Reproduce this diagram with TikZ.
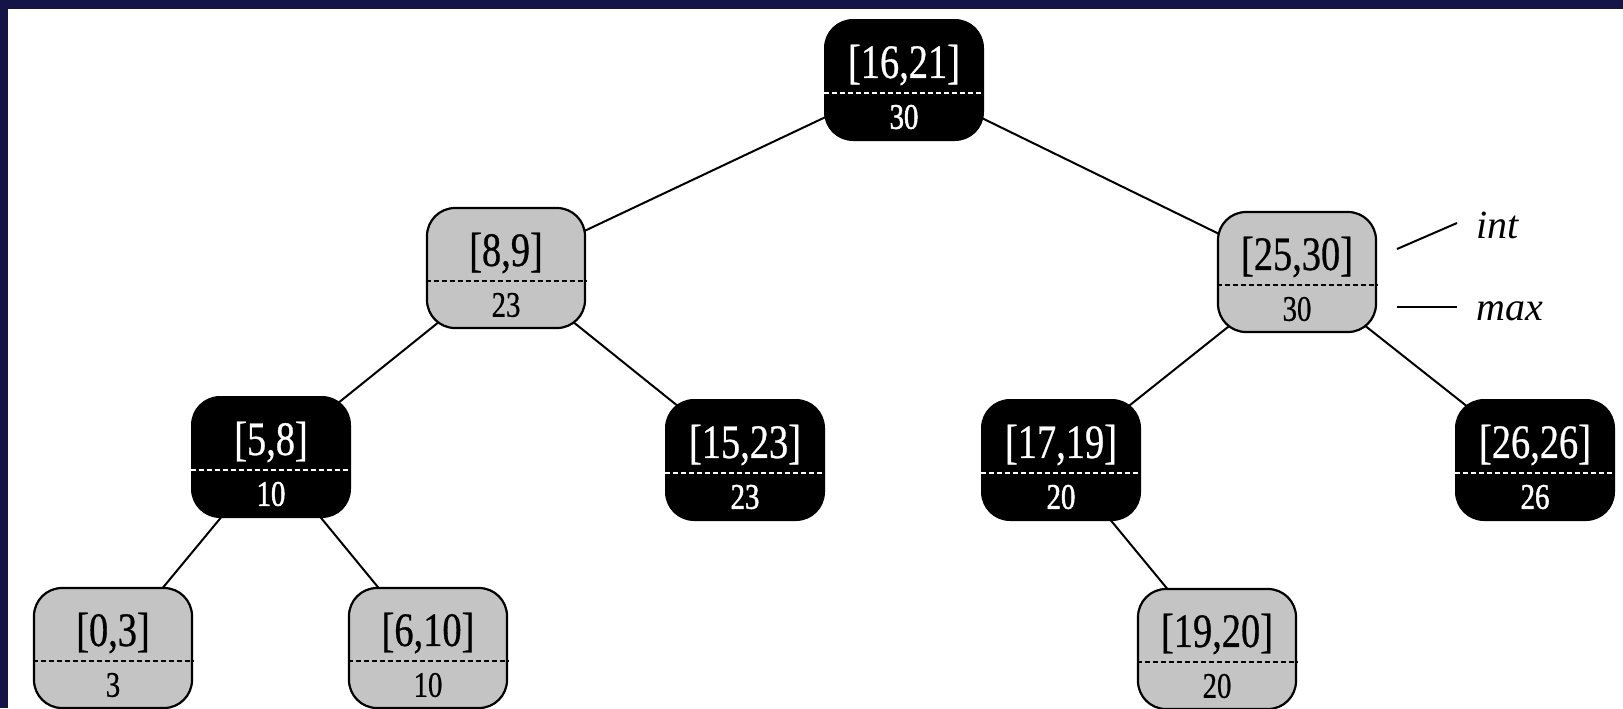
\documentclass[tikz,border=0pt]{standalone}
\usepackage{fontspec}
\setmainfont{Liberation Serif}
\newfontfamily\narrowserif[FakeStretch=0.8,FakeBold=0.6]{Liberation Serif}
\newfontfamily\narrowserifbf[FakeStretch=0.8,FakeBold=1.4]{Liberation Serif}
\usetikzlibrary{backgrounds}
\definecolor{navy}{RGB}{20,21,70}
\definecolor{stip}{RGB}{196,196,196}
\newcommand\topf{\narrowserif\fontsize{24}{28}\selectfont}
\newcommand\botf{\narrowserif\fontsize{18}{22}\selectfont}
\newcommand\botfb{\narrowserifbf\fontsize{18}{22}\selectfont}
\tikzset{
  anybox/.style={rectangle,rounded corners=14pt,minimum width=79pt,minimum height=60pt,inner sep=0pt},
  blkbox/.style={anybox,fill=black,draw=black,line width=1pt},
  grybox/.style={anybox,fill=stip,draw=black,line width=1.1pt},
  blkdash/.style={draw=white,line width=1pt,dash pattern=on 2.5pt off 1.5pt},
  grydash/.style={draw=black,line width=1pt,dash pattern=on 2.5pt off 1.5pt},
  blktxt/.style={text=white,inner sep=0pt},
  grytxt/.style={text=black,inner sep=0pt},
  edge/.style={draw=black,line width=1pt},
  tag/.style={font=\itshape\fontsize{20}{24}\selectfont,inner sep=0pt,anchor=base west},
}
% #1 name, #2 position, #3 blk/gry, #4 interval, #5 max, #6 font of max
\newcommand\ivn[6]{%
  \node[#3box] (#1) at (#2) {};
  \draw[#3dash] ([yshift=-6.5pt]#1.west) -- ([yshift=-6.5pt]#1.east);
  \node[#3txt,font=\topf] (#1i) at ([yshift=7.5pt]#1.center) {#4};
  \node[#3txt,font=#6] (#1m) at ([yshift=-18.5pt]#1.center) {#5};
}
\begin{document}
\begin{tikzpicture}[x=0.5pt,y=-0.5pt]
\useasboundingbox (0,0) rectangle (1623,708);

\ivn{r}{904,80}{blk}{[16,21]}{30}{\botfb}
\ivn{a}{506,268}{gry}{[8,9]}{23}{\botf}
\ivn{b}{1297,272}{gry}{[25,30]}{30}{\botf}
\ivn{c}{271,457}{blk}{[5,8]}{10}{\botfb}
\ivn{d}{745,460}{blk}{[15,23]}{23}{\botfb}
\ivn{e}{1061,460}{blk}{[17,19]}{20}{\botfb}
\ivn{f}{1535,460}{blk}{[26,26]}{26}{\botfb}
\ivn{g}{113,648}{gry}{[0,3]}{3}{\botf}
\ivn{h}{428,648}{gry}{[6,10]}{10}{\botf}
\ivn{k}{1217,649}{gry}{[19,20]}{20}{\botf}

\begin{scope}[on background layer]
  \fill[white] (0,0) rectangle (1623,708);
  \fill[navy] (0,0) rectangle (1623,9);
  \fill[navy] (0,0) rectangle (8,708);
  \draw[edge] (r.center) -- (a.center);
  \draw[edge] (r.center) -- (b.center);
  \draw[edge] (a.center) -- (c.center);
  \draw[edge] (a.center) -- (d.center);
  \draw[edge] (b.center) -- (e.center);
  \draw[edge] (b.center) -- (f.center);
  \draw[edge] (c.center) -- (g.center);
  \draw[edge] (c.center) -- (h.center);
  \draw[edge] (e.center) -- (k.center);
\end{scope}

\node[tag] (int) at (1476,238) {int};
\node[tag] (max) at (1476,320) {max};
\coordinate (i1) at (1397,249);
\coordinate (i2) at (1457,223);
\coordinate (m1) at (1397,307);
\coordinate (m2) at (1457,307);
\draw[edge] (i1) -- (i2);
\draw[edge] (m1) -- (m2);
\end{tikzpicture}
\end{document}
